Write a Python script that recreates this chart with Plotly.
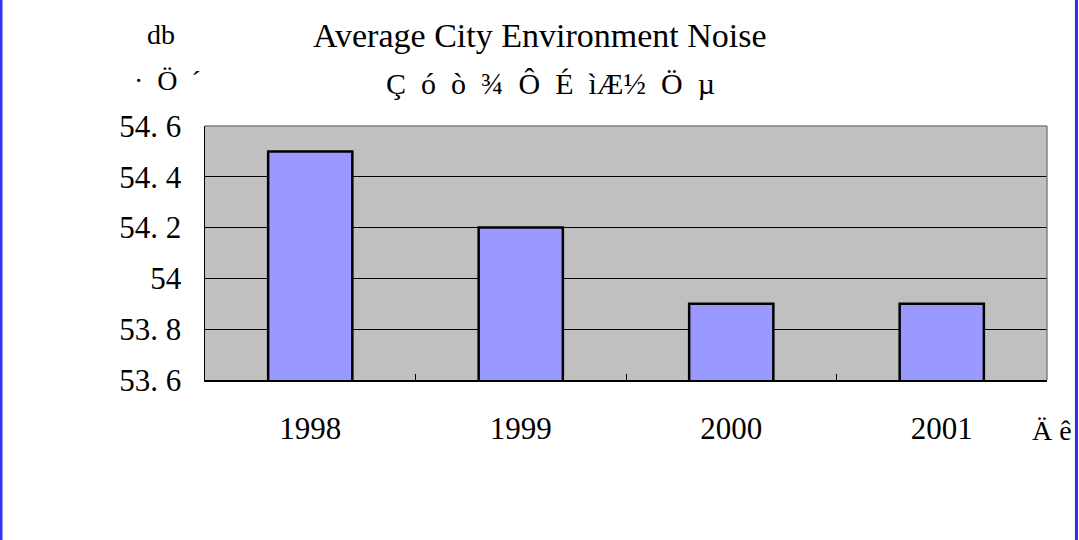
import plotly.graph_objects as go

# ---- data ----
years = ["1998", "1999", "2000", "2001"]
noise_db = [54.5, 54.2, 53.9, 53.9]
y_tickvals = [53.6, 53.8, 54.0, 54.2, 54.4, 54.6]
y_ticktext = ["53. 6", "53. 8", "54", "54. 2", "54. 4", "54. 6"]

title_en = "Average City Environment Noise"
title_garbled = "Ç  ó  ò  ¾  Ô  É  ìÆ½  Ö  µ"
y_unit_top = "db"
y_unit_garbled = "·  Ö  ´"
x_unit_garbled = "Ä ê"

W, H = 1079, 540
L, R, T, B = 205, 32, 126, 160
PW, PH = W - L - R, H - T - B


def fx(p):
    return (p - L) / PW


def fy(p):
    return (H - B - p) / PH


FONT = "Liberation Serif, Times New Roman, serif"

fig = go.Figure()
fig.add_trace(go.Bar(
    x=years, y=noise_db, width=0.4,
    marker=dict(color="#9999FF", line=dict(color="black", width=2.5)),
    showlegend=False, hoverinfo="skip",
))

ann = []


def add_text(text, px, py, size, xanchor="center"):
    ann.append(dict(text=text, x=fx(px), y=fy(py), xref="paper", yref="paper",
                    xanchor=xanchor, yanchor="middle", showarrow=False,
                    font=dict(family=FONT, size=size, color="black")))


add_text(y_unit_top, 161, 35, 28)
add_text(y_unit_garbled, 167, 80, 28)
add_text(title_en, 540, 36, 34)
add_text(title_garbled, 550, 83, 30)
add_text(x_unit_garbled, 1030, 430, 28, xanchor="left")

shapes = [
    # gray top and right border of plot area
    dict(type="line", xref="paper", yref="paper", x0=0, x1=1, y0=1, y1=1,
         line=dict(color="#808080", width=1.5)),
    dict(type="line", xref="paper", yref="paper", x0=1, x1=1, y0=0, y1=1,
         line=dict(color="#808080", width=1.5)),
    # blue page borders
    dict(type="rect", xref="paper", yref="paper", x0=fx(0), x1=fx(2.5),
         y0=fy(H), y1=fy(0), line=dict(width=0), fillcolor="#3333FF"),
    dict(type="line", xref="paper", yref="paper", x0=fx(1075.5), x1=fx(1075.5),
         y0=fy(H), y1=fy(0), line=dict(color="#333366", width=1)),
    dict(type="rect", xref="paper", yref="paper", x0=fx(1076), x1=fx(1078),
         y0=fy(H), y1=fy(0), line=dict(width=0), fillcolor="#3333FF"),
]

fig.update_layout(
    width=W, height=H,
    margin=dict(l=L, r=R, t=T, b=B, pad=0),
    paper_bgcolor="white", plot_bgcolor="#C0C0C0",
    annotations=ann, shapes=shapes,
    font=dict(family=FONT, color="black"),
    xaxis=dict(type="category", tickson="boundaries", ticks="inside",
               ticklen=6, tickcolor="black", tickwidth=1,
               showline=True, linecolor="black", linewidth=1.5,
               showgrid=False, tickfont=dict(family=FONT, size=31),
               ticklabelstandoff=20),
    yaxis=dict(range=[53.6, 54.6], tickvals=y_tickvals, ticktext=y_ticktext,
               showgrid=True, gridcolor="black", gridwidth=1, zeroline=False,
               showline=True, linecolor="black", linewidth=1.5,
               ticks="", tickfont=dict(family=FONT, size=31),
               ticklabelstandoff=16),
    bargap=0.6,
)

fig.write_html("out.html",
               config={"displayModeBar": False, "staticPlot": True},
               post_script="document.body.style.margin='0';document.body.style.overflow='hidden';")
